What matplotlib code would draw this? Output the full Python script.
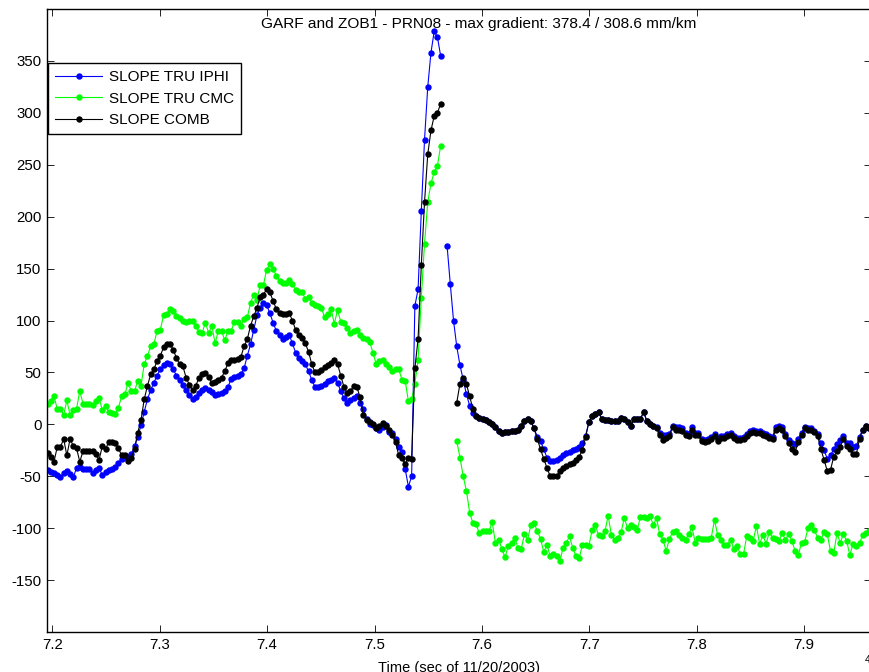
import numpy as np
import matplotlib
matplotlib.use('Agg')
import matplotlib.pyplot as plt

nan = np.nan

# epoch grid: 30 s sampling, seconds of 11/20/2003
t_start = 71955
t_step = 30
n_epochs = 256

slope_iphi = [
    -44, -46, -47, -49, -51, -47, -45, -48, -51, -42,
    -41, -43, -43, -43, -47, -44, -42, -49, -46, -44,
    -43, -41, -37, -33, -31, -31, -29, -21, -12, -1,
    12, 24, 33, 40, 47, 53, 57, 59, 58, 53,
    47, 43, 38, 33, 28, 24, 26, 30, 33, 35,
    33, 31, 28, 29, 30, 32, 36, 44, 46, 47,
    48, 54, 66, 77, 91, 105, 112, 117, 115, 107,
    98, 90, 86, 82, 84, 86, 78, 69, 64, 61,
    58, 51, 43, 36, 36, 37, 39, 42, 43, 45,
    40, 32, 25, 21, 23, 25, 27, 21, 15, 5,
    0, -1, -4, -5, -3, -1, -7, -8, -14, -22,
    -27, -43, -60, -50, 114, 130, 205, 274, 325, 358,
    378.4, 373, 355, nan, 172, 135, 100, 75, 57, 43,
    29, 18, 11, 8, 6, 5, 4, 2, 0, -3,
    -6, -8, -7, -7, -6, -6, -5, -2, 3, 5,
    3, -4, -12, -16, -24, -32, -35, -35, -34, -32,
    -30, -28, -27, -25, -24, -22, -18, -11, 2, 8,
    10, 12, 5, 4, 4, 3, 3, 3, 6, 5,
    2, -2, 5, 5, 5, 12, 3, 0, -2, -3,
    -8, -10, -10, -9, -2, -3, -3, -4, -8, -9,
    -3, -8, -8, -14, -15, -14, -12, -9, -14, -11,
    -11, -9, -8, -11, -13, -13, -12, -9, -6, -5,
    -6, -6, -8, -9, -11, -12, -3, -2, -3, -9,
    -15, -18, -19, -14, -8, -3, -4, -4, -6, -9,
    -18, -25, -33, -30, -24, -19, -15, -11, -18, -18,
    -22, -21, -12, -5, -2, -4,
]

slope_cmc = [
    20, 22, 27, 15, 15, 9, 23, 9, 14, 15,
    32, 20, 20, 20, 19, 22, 25, 14, 18, 12,
    11, 10, 16, 27, 29, 40, 32, 32, 42, 37,
    58, 66, 75, 77, 90, 91, 105, 106, 111, 109,
    104, 102, 100, 99, 100, 100, 95, 89, 88, 98,
    88, 95, 78, 90, 90, 81, 90, 90, 99, 99,
    95, 101, 103, 117, 125, 120, 134, 134, 149, 154,
    150, 143, 138, 136, 136, 139, 135, 129, 127, 127,
    121, 123, 117, 115, 114, 112, 103, 106, 111, 97,
    110, 99, 98, 93, 88, 90, 91, 86, 83, 82,
    79, 69, 58, 61, 62, 58, 55, 51, 53, 53,
    43, 42, 22, 24, 39, 62, 122, 174, 214, 232,
    243, 249, 268, nan, nan, nan, nan, -16, -32, -50,
    -64, -85, -95, -96, -105, -103, -103, -103, -94, -114,
    -111, -120, -128, -117, -114, -109, -119, -120, -106, -111,
    -97, -95, -103, -110, -123, -116, -127, -125, -127, -132,
    -119, -114, -108, -119, -127, -129, -116, -116, -117, -102,
    -97, -107, -108, -103, -88, -107, -111, -109, -104, -90,
    -100, -97, -99, -102, -89, -89, -90, -88, -97, -90,
    -106, -111, -122, -110, -104, -103, -107, -109, -111, -106,
    -99, -114, -109, -110, -110, -110, -109, -92, -107, -111,
    -116, -116, -111, -120, -117, -125, -125, -108, -109, -112,
    -98, -115, -107, -115, -104, -109, -110, -112, -105, -111,
    -106, -112, -122, -126, -114, -113, -100, -97, -102, -109,
    -111, -104, -106, -122, -124, -105, -114, -106, -112, -126,
    -115, -117, -114, -107, -105, -103,
]

slope_comb = [
    -28, -31, -36, -22, -22, -14, -30, -14, -21, -23,
    -36, -26, -26, -26, -26, -29, -34, -21, -24, -17,
    -17, -18, -23, -30, -30, -35, -32, -24, -8, 4,
    24, 37, 48, 53, 61, 66, 74, 77, 77, 72,
    64, 58, 56, 45, 38, 33, 37, 45, 48, 49,
    46, 40, 41, 43, 45, 51, 59, 62, 62, 63,
    65, 75, 82, 95, 104, 112, 123, 125, 130, 127,
    119, 111, 107, 106, 106, 107, 100, 91, 86, 83,
    78, 70, 58, 50, 50, 52, 55, 57, 59, 62,
    58, 47, 36, 30, 32, 37, 36, 26, 9, 4,
    2, 0, -4, -2, 1, -2, -5, -10, -17, -30,
    -32, -38, -32, -33, 54, 82, 153, 214, 260, 283,
    297, 300, 308.6, nan, nan, nan, nan, 21, 39, 45,
    39, 27, 15, 8, 6, 5, 4, 2, 0, -3,
    -6, -8, -7, -7, -6, -6, -5, -2, 3, 5,
    3, -4, -14, -24, -33, -42, -50, -50, -50, -45,
    -42, -40, -38, -37, -34, -31, -25, -12, 2, 8,
    10, 12, 5, 4, 4, 3, 3, 3, 6, 5,
    2, -2, 5, 5, 5, 12, 3, 0, -2, -4,
    -10, -15, -13, -11, -3, -5, -5, -6, -10, -11,
    -5, -10, -10, -16, -17, -16, -14, -11, -16, -13,
    -13, -11, -10, -13, -15, -15, -14, -11, -8, -7,
    -8, -8, -10, -11, -13, -14, -5, -4, -5, -11,
    -18, -24, -27, -17, -10, -4, -5, -5, -7, -11,
    -24, -34, -45, -44, -31, -26, -22, -14, -21, -24,
    -29, -29, -14, -5, -2, -4,
]

labels = ['SLOPE TRU IPHI', 'SLOPE TRU CMC', 'SLOPE COMB']
title = 'GARF and ZOB1 - PRN08 - max gradient: 378.4 / 308.6 mm/km'
xticks = [7.2, 7.3, 7.4, 7.5, 7.6, 7.7, 7.8, 7.9]
yticks = [-150, -100, -50, 0, 50, 100, 150, 200, 250, 300, 350]

plt.rcParams['font.family'] = ['Liberation Sans', 'DejaVu Sans']
plt.rcParams['axes.unicode_minus'] = False

t = (t_start + t_step * np.arange(n_epochs)) / 1e4

fig = plt.figure(figsize=(8.7, 6.72), dpi=100)
ax = fig.add_axes([47 / 870, 40 / 672, 824 / 870, 623 / 672])

style = dict(marker='o', markersize=4.6, markeredgewidth=0, linewidth=0.8)
ax.plot(t, slope_iphi, color='#0000ff', label=labels[0], **style)
ax.plot(t, slope_cmc, color='#00ff00', label=labels[1], **style)
ax.plot(t, slope_comb, color='black', label=labels[2], **style)

ax.set_xlim(7.1950, 7.9622)
ax.set_ylim(-200, 400)
ax.set_xticks(xticks)
ax.set_xticklabels([str(v) for v in xticks])
ax.set_yticks(yticks)
ax.set_yticklabels([str(v) for v in yticks])
ax.tick_params(direction='in', length=5, width=0.6, top=True, right=True,
               labelsize=10.8, pad=4)
for s in ax.spines.values():
    s.set_linewidth(1.0)

ax.text(0.524, 0.976, title, transform=ax.transAxes, ha='center', va='center',
        fontsize=11.1)
ax.set_xlabel('Time (sec of 11/20/2003)', fontsize=10.5, labelpad=7)
fig.text(865 / 870, 1 - 660 / 672, '4', fontsize=7.5, ha='left', va='center')

leg = ax.legend(loc='upper left', bbox_to_anchor=(0.0012, 0.913), borderaxespad=0,
                fancybox=False, framealpha=1, edgecolor='black', fontsize=11,
                handlelength=3.1, handletextpad=0.45, labelspacing=0.5,
                borderpad=0.45)
leg.get_frame().set_linewidth(1.0)

fig.savefig('out.png', dpi=100)
